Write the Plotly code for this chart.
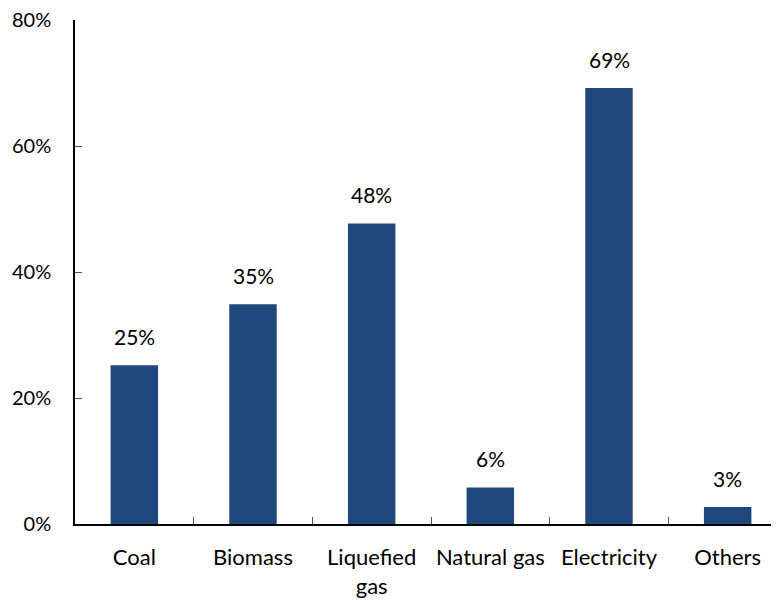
import plotly.graph_objects as go

categories = ["Coal", "Biomass", "Liquefied<br>gas", "Natural gas", "Electricity", "Others"]
values = [25.2, 34.9, 47.7, 5.8, 69.2, 2.7]
labels = ["25%", "35%", "48%", "6%", "69%", "3%"]
yticks = [0, 20, 40, 60, 80]

FONT = "Lato"
BAR = "#1F487C"

fig = go.Figure(go.Bar(x=categories, y=values, marker=dict(color=BAR, line=dict(width=0)), width=0.4))

for c, v, t in zip(categories, values, labels):
    fig.add_annotation(x=c, y=v, text=t, showarrow=False, yanchor="bottom", yshift=14,
                       font=dict(family=FONT, size=21, color="#000"))

fig.update_layout(
    width=779, height=601,
    margin=dict(l=67, r=0, t=12, b=85),
    paper_bgcolor="white", plot_bgcolor="white",
    showlegend=False,
    font=dict(family=FONT, size=21, color="#000"),
    xaxis=dict(type="category", range=[-0.5, 5.5], showline=True, linecolor="#000", linewidth=1.5,
               ticks="inside", tickson="boundaries", ticklen=7, tickcolor="#555", tickwidth=1,
               showgrid=False, ticklabelstandoff=13, automargin=False,
               tickfont=dict(family=FONT, size=22, color="#000")),
    yaxis=dict(range=[0, 80], tickvals=yticks, ticktext=[f"{v}%" for v in yticks],
               showline=True, linecolor="#000", linewidth=1.5, ticks="inside", ticklen=7,
               tickcolor="#555", showgrid=False, zeroline=False, ticklabelstandoff=18,
               automargin=False, ticklabeloverflow="allow",
               tickfont=dict(family=FONT, size=20, color="#000")),
)

fig.write_html("out.html")
